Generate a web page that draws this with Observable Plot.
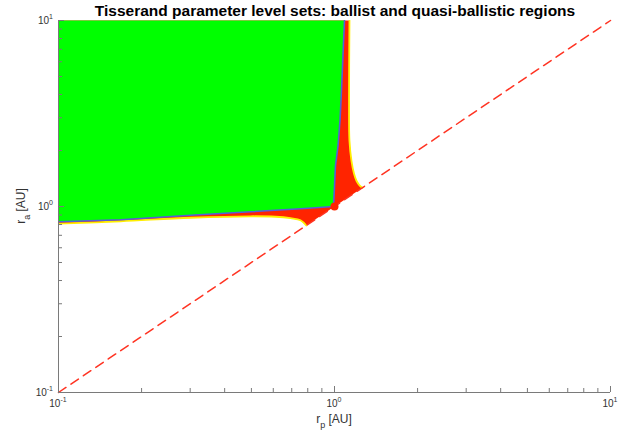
<!DOCTYPE html>
<html><head><meta charset="utf-8">
<script src="https://cdn.jsdelivr.net/npm/d3@7"></script>
<script src="https://cdn.jsdelivr.net/npm/@observablehq/plot@0.6"></script>
<style>body{margin:0;background:#fff} svg{display:block}</style>
</head><body><div id="chart"></div>
<script>
const titleText = "Tisserand parameter level sets: ballist and quasi-ballistic regions";
const xLabelMain = "r", xLabelSub = "p", yLabelMain = "r", yLabelSub = "a", unitText = " [AU]";
const majorTicks = [0.1, 1, 10];
const majorExp = ["-1", "0", "1"];
const minorTicks = [0.2,0.3,0.4,0.5,0.6,0.7,0.8,0.9,2,3,4,5,6,7,8,9];
const diagEnds = [0.1, 10];
const circular = [1];

// ballistic (green) region boundary: (rp, ra)
const greenRp = [0.1, 1.087, 1.073, 1.06, 1.047, 1.03, 1.008, 1.0, 0.992, 0.753, 0.496, 0.301, 0.168, 0.1];
const greenRa = [10, 10, 6.45, 4.18, 2.89, 2.12, 1.655, 1.29, 1.0, 0.972, 0.937, 0.898, 0.849, 0.828];

// quasi-ballistic (red) level set: lower lobe contour
const lowRp = [0.1, 0.168, 0.301, 0.496, 0.611, 0.693, 0.753, 0.79];
const lowRa = [0.808, 0.833, 0.870, 0.886, 0.881, 0.865, 0.844, 0.79];
// upper lobe contour (from the tip on the diagonal upward)
const upRp = [1.262, 1.232, 1.201, 1.177, 1.152, 1.133, 1.129, 1.133];
const upRa = [1.262, 1.30, 1.375, 1.499, 1.76, 2.254, 3.70, 10];

const zip = (a, b) => a.map((v, i) => ({rp: v, ra: b[i]}));
const green = zip(greenRp, greenRa);
const low = zip(lowRp, lowRa);
const up = zip(upRp, upRa);
const red = [...low, ...up, {rp: 0.1, ra: 10}];
const blue = green.slice(1);
const diag = diagEnds.map(v => ({rp: v, ra: v}));
const dot = circular.map(v => ({rp: v, ra: v}));

const RED = "#ff2400", GREEN = "#00ff00", YELLOW = "#ffef00", BLUE = "#5560d8", AX = "#7a7a7a";
const H = 392 - 20, W = 610 - 58;

const plot = Plot.plot({
  width: 623, height: 434,
  marginLeft: 58, marginRight: 13, marginTop: 20, marginBottom: 42,
  x: {type: "log", domain: [0.1, 10], axis: null},
  y: {type: "log", domain: [0.1, 10], axis: null},
  style: {fontFamily: "'Liberation Sans', Arial, sans-serif", background: "white"},
  marks: [
    Plot.line(red, {x: "rp", y: "ra", fill: RED, stroke: "none", clip: true}),
    Plot.line(green, {x: "rp", y: "ra", fill: GREEN, stroke: "none", clip: true}),
    Plot.line(low, {x: "rp", y: "ra", stroke: YELLOW, strokeWidth: 1.8, curve: "catmull-rom", clip: true}),
    Plot.line(up, {x: "rp", y: "ra", stroke: YELLOW, strokeWidth: 1.8, curve: "catmull-rom", clip: true}),
    Plot.line(blue, {x: "rp", y: "ra", stroke: BLUE, strokeWidth: 1.6, clip: true}),
    Plot.line(diag, {x: "rp", y: "ra", stroke: "#ff3322", strokeWidth: 1.5, strokeDasharray: "9,6"}),
    Plot.dot(dot, {x: "rp", y: "ra", r: 4, fill: RED, stroke: "none"}),
    // axes lines
    Plot.ruleX([0.1], {stroke: AX}),
    Plot.ruleY([0.1], {stroke: AX}),
    // inward ticks
    Plot.ruleX(majorTicks, {x: d => d, insetTop: H - 6, stroke: AX}),
    Plot.ruleX(minorTicks, {x: d => d, insetTop: H - 4, stroke: AX}),
    Plot.ruleY(majorTicks, {y: d => d, insetRight: W - 6, stroke: AX}),
    Plot.ruleY(minorTicks, {y: d => d, insetRight: W - 4, stroke: AX})
  ]
});

const svg = d3.select(plot);
const sx = plot.scale("x"), sy = plot.scale("y");
const g = svg.append("g").attr("font-family", "'Liberation Sans', Arial, sans-serif");

// x tick labels
majorTicks.forEach((v, i) => {
  const t = g.append("text").attr("x", sx.apply(v)).attr("y", 407).attr("text-anchor", "middle")
    .attr("font-size", 10).attr("fill", "#333");
  t.append("tspan").text("10");
  t.append("tspan").attr("dy", -5).attr("font-size", 7).text(majorExp[i]);
});
// y tick labels
majorTicks.forEach((v, i) => {
  const t = g.append("text").attr("x", 53).attr("y", sy.apply(v) + 4).attr("text-anchor", "end")
    .attr("font-size", 10).attr("fill", "#333");
  t.append("tspan").text("10");
  t.append("tspan").attr("dy", -5).attr("font-size", 7).text(majorExp[i]);
});
// axis labels
const xl = g.append("text").attr("x", 334).attr("y", 423).attr("text-anchor", "middle")
  .attr("font-size", 12).attr("fill", "#333");
xl.append("tspan").text(xLabelMain);
xl.append("tspan").attr("dy", 5).attr("font-size", 9).text(xLabelSub);
xl.append("tspan").attr("dy", -5).text(unitText);
const yl = g.append("text").attr("transform", "translate(25,206) rotate(-90)").attr("text-anchor", "middle")
  .attr("font-size", 12).attr("fill", "#333");
yl.append("tspan").text(yLabelMain);
yl.append("tspan").attr("dy", 5).attr("font-size", 9).text(yLabelSub);
yl.append("tspan").attr("dy", -5).text(unitText);
// title
g.append("text").attr("x", 335).attr("y", 16).attr("text-anchor", "middle")
  .attr("font-size", 15.5).attr("font-weight", "bold").attr("fill", "#000").text(titleText);

document.getElementById("chart").appendChild(plot);
</script></body></html>
